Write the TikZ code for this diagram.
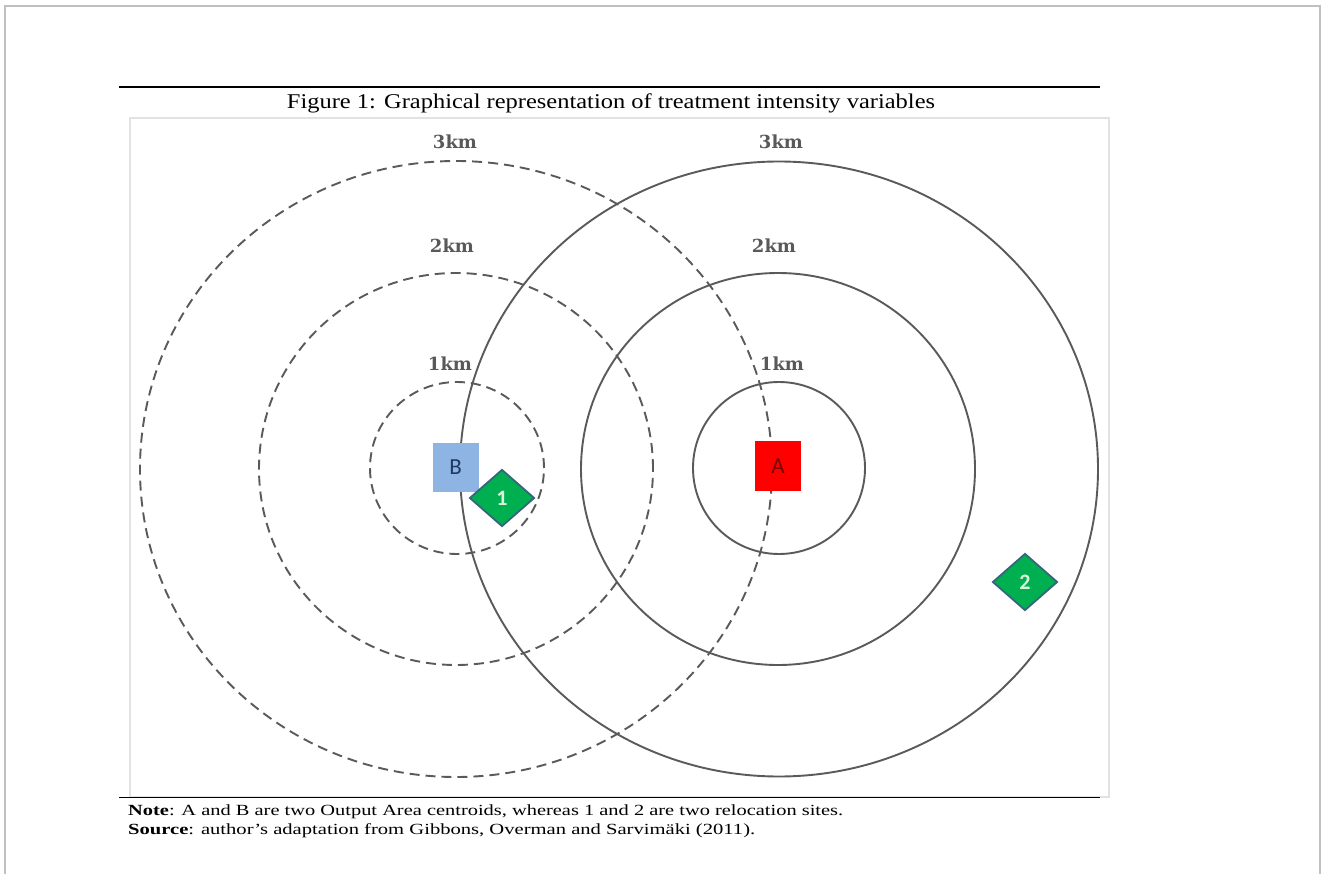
\documentclass[tikz,border=0pt]{standalone}
\usepackage{fontspec}
\usepackage{graphicx}
\setmainfont{Liberation Serif}
\newfontfamily\labfont{DejaVu Serif}
\newfontfamily\shapefont{Carlito}
\usetikzlibrary{shapes.geometric}

\definecolor{pageedge}{HTML}{C0C0C0}
\definecolor{frameedge}{HTML}{E2E2E2}
\definecolor{ringgray}{HTML}{5A5A5A}
\definecolor{labgray}{HTML}{595959}
\definecolor{boxblue}{HTML}{8EB4E3}
\definecolor{letterblue}{HTML}{1F3864}
\definecolor{boxred}{HTML}{FF0000}
\definecolor{letterred}{HTML}{7A0000}
\definecolor{sitegreen}{HTML}{00B050}
\definecolor{siteedge}{HTML}{35677A}
\definecolor{sitetext}{HTML}{D8F5DC}

% stretch a line of text to a given width, keeping its height
\newcommand{\fitwidth}[2]{\resizebox{#1}{\height}{#2}}

\tikzset{
  ring/.style={draw=ringgray, line width=1.9pt, ellipse, inner sep=0pt},
  dashring/.style={ring, dash pattern=on 10pt off 6pt},
  kmlabel/.style={font=\labfont\bfseries\fontsize{18}{18}\selectfont, text=labgray, inner sep=0pt},
  centroid/.style={minimum width=46pt, minimum height=49pt, inner sep=0pt,
                   font=\shapefont\fontsize{23}{23}\selectfont},
  site/.style={diamond, fill=sitegreen, draw=siteedge, line width=1.8pt,
               minimum width=65pt, minimum height=57pt, inner sep=0pt,
               font=\shapefont\bfseries\fontsize{22}{22}\selectfont, text=sitetext},
  caption/.style={inner sep=0pt, anchor=base west},
}

\begin{document}
\begin{tikzpicture}[x=1pt, y=-1pt]
\useasboundingbox (0,0) rectangle (1322,874);
\fill[white] (0,0) rectangle (1322,874);

% page edge
\draw[pageedge, line width=1.6pt] (5,874) -- (5,6) -- (1320,6) -- (1320,874);

% figure frame and rules
\draw[frameedge, line width=1.2pt] (130,118) rectangle (1109,797);
\draw[black, line width=1.5pt] (119,87) -- (1100,87);
\draw[black, line width=1.5pt] (119,797.5) -- (1100,797.5);

% title
\node[inner sep=0pt, anchor=base] (title) at (611,109)
  {\fitwidth{648pt}{\fontsize{21}{21}\selectfont Figure 1: Graphical representation of treatment intensity variables}};

% rings round B (dashed)
\node[dashring, minimum width=632pt, minimum height=616pt] (b3) at (456,469) {};
\node[dashring, minimum width=394pt, minimum height=392pt] (b2) at (456,469) {};
\node[dashring, minimum width=174pt, minimum height=172pt] (b1) at (457,468) {};

% rings round A (solid)
\node[ring, minimum width=638pt, minimum height=615pt] (a3) at (779,469) {};
\node[ring, minimum width=394pt, minimum height=392pt] (a2) at (778,469) {};
\node[ring, minimum width=172pt, minimum height=172pt] (a1) at (779,468) {};

% distance labels
\node[kmlabel] (lb3) at (455,142) {3km};
\node[kmlabel] (lb2) at (452,245.5) {2km};
\node[kmlabel] (lb1) at (450,364) {1km};
\node[kmlabel] (la3) at (781,142) {3km};
\node[kmlabel] (la2) at (774,245.5) {2km};
\node[kmlabel] (la1) at (782,364) {1km};

% output area centroids
\node[centroid, fill=boxblue, text=letterblue] (B) at (455.5,467.5) {B};
\node[centroid, fill=boxred, text=letterred, minimum height=50pt] (A) at (778,466) {A};

% relocation sites
\node[site] (s1) at (502,498) {1};
\node[site] (s2) at (1025,582) {2};

% notes
\node[caption] (note) at (128,815)
  {\fitwidth{715pt}{\fontsize{15.5}{15.5}\selectfont\textbf{Note}: A and B are two Output Area centroids, whereas 1 and 2 are two relocation sites.}};
\node[caption] (source) at (128,834)
  {\fitwidth{627pt}{\fontsize{15.5}{15.5}\selectfont\textbf{Source}: author's adaptation from Gibbons, Overman and Sarvimäki (2011).}};
\end{tikzpicture}
\end{document}
